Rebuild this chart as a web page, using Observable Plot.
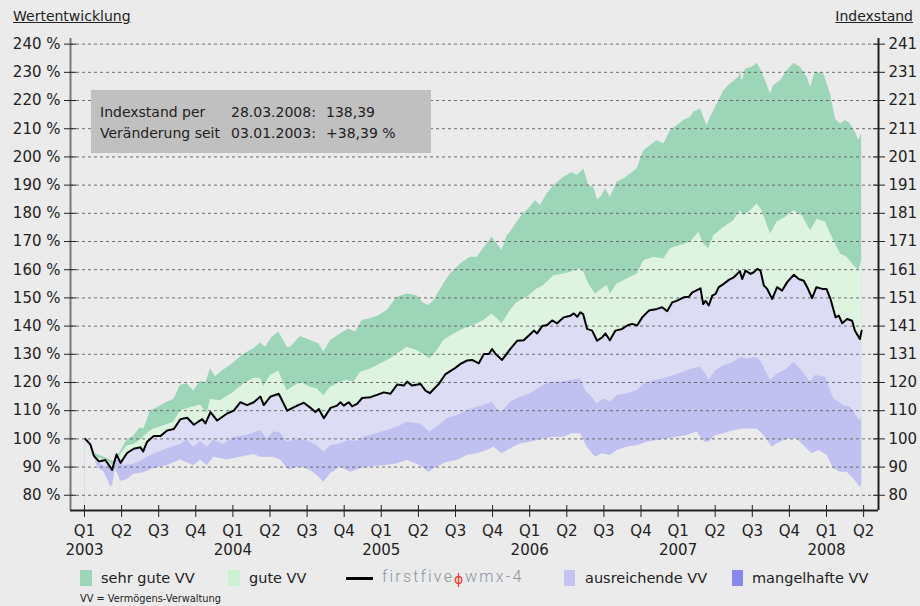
<!DOCTYPE html>
<html><head><meta charset="utf-8">
<script src="https://cdn.jsdelivr.net/npm/d3@7"></script>
<script src="https://cdn.jsdelivr.net/npm/@observablehq/plot@0.6"></script>
<style>
body{margin:0;background:#ebebeb;font-family:"DejaVu Sans",sans-serif;color:#222;}
#root{position:relative;width:920px;height:606px;overflow:hidden;background:#ebebeb;}
.abs{position:absolute;line-height:1;white-space:nowrap;}
#chart{position:absolute;left:0;top:32px;}
</style></head><body><div id="root"><div id="chart"></div></div>
<script>
// ---- data (time in decimal years, values in % of start) ----
const indexLine = [[2003.005,100],[2003.040,98],[2003.063,94],[2003.097,92],[2003.141,92.5],[2003.186,89],[2003.216,94.5],[2003.243,91.5],[2003.287,95],[2003.332,96.5],[2003.377,97],[2003.395,95.5],[2003.422,99],[2003.467,101],[2003.512,101],[2003.557,103],[2003.602,103.5],[2003.647,107],[2003.692,107.5],[2003.737,105],[2003.793,107],[2003.815,105.5],[2003.849,109.5],[2003.894,106.5],[2003.961,109],[2004.006,110],[2004.051,113],[2004.096,112],[2004.141,113],[2004.186,115],[2004.208,112],[2004.253,115],[2004.309,116],[2004.366,110],[2004.433,111.8],[2004.478,112.8],[2004.523,111],[2004.556,109.5],[2004.579,110.6],[2004.613,107.3],[2004.658,111],[2004.702,111.8],[2004.725,113],[2004.747,111.8],[2004.781,113],[2004.803,111.5],[2004.837,112.4],[2004.871,114.5],[2004.927,114.8],[2004.972,115.6],[2005.017,116.5],[2005.062,116],[2005.107,119.3],[2005.152,118.9],[2005.174,120.3],[2005.208,118.9],[2005.264,119.5],[2005.298,117.1],[2005.327,116.2],[2005.354,117.7],[2005.388,119.5],[2005.433,123],[2005.489,124.8],[2005.534,126.6],[2005.578,127.8],[2005.612,128],[2005.657,126.8],[2005.691,130.1],[2005.725,130.1],[2005.747,131.9],[2005.770,130.1],[2005.814,128],[2005.870,131.9],[2005.915,134.8],[2005.960,135],[2006.005,137.2],[2006.028,138.4],[2006.050,137.4],[2006.084,140],[2006.118,140.4],[2006.151,142],[2006.185,141],[2006.230,143.1],[2006.275,143.7],[2006.297,144.5],[2006.320,143.3],[2006.342,144.9],[2006.360,144.3],[2006.387,139],[2006.421,138.4],[2006.454,134.8],[2006.488,136],[2006.511,137.4],[2006.540,135],[2006.578,138.4],[2006.623,139],[2006.657,140.2],[2006.690,140.8],[2006.724,140.2],[2006.758,143.1],[2006.803,145.5],[2006.859,146.1],[2006.892,146.7],[2006.926,145.3],[2006.960,148.4],[2006.993,149],[2007.038,150.2],[2007.072,150.4],[2007.094,151.9],[2007.151,153.4],[2007.169,147.8],[2007.185,149],[2007.207,147.3],[2007.230,150.8],[2007.252,151.4],[2007.274,153.8],[2007.308,155],[2007.342,156.4],[2007.375,157.3],[2007.398,158.5],[2007.416,159.5],[2007.432,156.7],[2007.454,159.7],[2007.488,158.5],[2007.510,159.1],[2007.533,160.3],[2007.555,159.7],[2007.578,154.4],[2007.600,153.2],[2007.634,149.6],[2007.667,153.8],[2007.701,152.6],[2007.735,155.6],[2007.780,158.2],[2007.813,156.7],[2007.847,156.1],[2007.870,153.8],[2007.903,149.9],[2007.932,153.8],[2007.971,153.2],[2008.000,153.2],[2008.027,149.6],[2008.061,143.1],[2008.083,143.7],[2008.106,141],[2008.139,142.5],[2008.173,141.9],[2008.191,138.4],[2008.225,135.4],[2008.237,138.39]];

const bandTop = [[2003.005,100],[2003.063,95],[2003.153,93],[2003.198,92],[2003.243,95.5],[2003.287,99.5],[2003.332,101],[2003.377,104],[2003.400,103.5],[2003.445,110],[2003.490,111],[2003.557,113],[2003.602,114],[2003.647,119],[2003.692,119.5],[2003.737,117],[2003.782,120.5],[2003.815,119.5],[2003.849,125],[2003.883,122],[2003.916,123.5],[2004.006,127],[2004.074,130],[2004.141,132],[2004.186,134],[2004.220,132.5],[2004.264,136],[2004.309,138],[2004.366,132.5],[2004.388,132.5],[2004.455,136.3],[2004.523,134.9],[2004.579,133.7],[2004.613,130.7],[2004.658,134.9],[2004.725,137.2],[2004.781,139],[2004.826,137.8],[2004.871,142],[2004.927,142.6],[2004.983,143.7],[2005.039,145.5],[2005.107,150.2],[2005.174,151.4],[2005.241,150.8],[2005.286,148.1],[2005.320,147.3],[2005.354,149],[2005.421,155],[2005.466,158.5],[2005.534,162],[2005.601,164.4],[2005.646,164.4],[2005.680,166.8],[2005.747,171.5],[2005.781,169.1],[2005.814,166.8],[2005.848,172.1],[2005.870,173.3],[2005.938,178.6],[2006.005,182.2],[2006.039,184.5],[2006.073,182.8],[2006.118,186.9],[2006.162,189.8],[2006.230,192.8],[2006.286,194.5],[2006.320,193.4],[2006.365,195.7],[2006.398,189.8],[2006.432,189.2],[2006.459,184.7],[2006.488,186.3],[2006.511,188.6],[2006.544,185.7],[2006.589,191],[2006.634,192.2],[2006.679,193.9],[2006.724,195.7],[2006.769,202.2],[2006.814,204],[2006.859,205.8],[2006.904,204.6],[2006.949,209.3],[2006.993,211.1],[2007.038,212.9],[2007.083,214.1],[2007.106,215.8],[2007.151,217],[2007.185,212.3],[2007.196,211.1],[2007.218,214],[2007.252,217.6],[2007.308,223.5],[2007.353,225.9],[2007.409,228.3],[2007.420,230.6],[2007.432,226.5],[2007.454,231.2],[2007.499,231.8],[2007.533,233.2],[2007.555,231.2],[2007.589,227],[2007.623,222.3],[2007.645,225.3],[2007.690,227],[2007.735,230.6],[2007.780,233.2],[2007.825,231.8],[2007.870,228.3],[2007.892,224.7],[2007.926,230],[2007.982,229.4],[2008.027,222.3],[2008.061,213.4],[2008.094,211.7],[2008.128,212.9],[2008.162,211.7],[2008.195,208.7],[2008.218,205.8],[2008.237,208.2]];

const bandGood = [[2003.005,100],[2003.063,93.5],[2003.153,92.5],[2003.198,90],[2003.243,94.5],[2003.287,97.5],[2003.332,98],[2003.377,99.5],[2003.422,102],[2003.467,103.5],[2003.557,105],[2003.602,106],[2003.647,110],[2003.714,111],[2003.782,112],[2003.827,109],[2003.849,114],[2003.916,113.5],[2004.006,116.5],[2004.074,119.5],[2004.141,121.5],[2004.186,121.5],[2004.208,118.5],[2004.253,122.5],[2004.309,124],[2004.366,117],[2004.455,120.1],[2004.523,118.3],[2004.568,117.7],[2004.613,115.4],[2004.658,118.3],[2004.725,120.1],[2004.770,120.7],[2004.815,120.1],[2004.860,123.6],[2004.927,124.8],[2004.994,126.6],[2005.062,128.4],[2005.107,130.1],[2005.174,132.5],[2005.241,131.3],[2005.298,129.6],[2005.327,128.4],[2005.376,131.3],[2005.421,134.9],[2005.489,137.2],[2005.556,139],[2005.624,140.2],[2005.691,142],[2005.747,144.3],[2005.781,142.6],[2005.814,140.8],[2005.870,145.5],[2005.915,148.4],[2005.983,150.2],[2006.050,153.2],[2006.095,154.4],[2006.162,157.9],[2006.230,158.5],[2006.275,159.1],[2006.342,160.3],[2006.365,159.1],[2006.398,154.9],[2006.443,151.4],[2006.488,153.2],[2006.522,154.4],[2006.544,151.4],[2006.589,154.9],[2006.657,156.7],[2006.724,158.5],[2006.769,163.2],[2006.836,164.4],[2006.904,163.8],[2006.949,167.4],[2007.016,168.6],[2007.083,169.7],[2007.140,173.3],[2007.173,169.1],[2007.207,167.4],[2007.241,172.1],[2007.308,175],[2007.375,177.4],[2007.420,180.9],[2007.443,179.1],[2007.488,180.9],[2007.533,183.3],[2007.566,180.9],[2007.623,172.7],[2007.667,176.8],[2007.724,178.6],[2007.780,180.9],[2007.836,179.1],[2007.892,173.8],[2007.937,177.9],[2007.993,176.8],[2008.049,170.3],[2008.094,165.6],[2008.139,164.4],[2008.184,161.5],[2008.218,159.7],[2008.237,163.2]];

const bandFair = [[2003.005,100],[2003.063,92.5],[2003.108,91],[2003.198,89],[2003.220,92.5],[2003.265,90.5],[2003.332,91],[2003.377,92],[2003.422,93.5],[2003.490,95],[2003.557,96.5],[2003.647,98],[2003.692,99.5],[2003.737,97],[2003.782,99],[2003.827,97],[2003.871,99.5],[2003.939,98],[2004.006,100.5],[2004.074,101],[2004.141,102],[2004.186,103],[2004.231,100],[2004.276,102.5],[2004.321,102],[2004.366,99],[2004.455,100],[2004.523,98.8],[2004.568,97.6],[2004.613,95.3],[2004.658,97.6],[2004.725,98.2],[2004.781,99.4],[2004.837,99.2],[2004.882,100.6],[2004.972,101.8],[2005.039,103],[2005.107,104.1],[2005.174,105.9],[2005.264,105.3],[2005.327,102.4],[2005.376,104.1],[2005.444,107.1],[2005.511,108.3],[2005.578,110],[2005.646,111.2],[2005.691,111.8],[2005.747,113],[2005.781,110.6],[2005.814,109.5],[2005.870,113],[2005.938,114.8],[2006.005,116],[2006.073,118.3],[2006.140,120.1],[2006.207,120.1],[2006.275,120.7],[2006.342,121.3],[2006.376,117.1],[2006.421,114.8],[2006.454,112.4],[2006.499,114.2],[2006.544,113],[2006.589,115.4],[2006.657,116],[2006.724,117.1],[2006.769,119.5],[2006.836,120.7],[2006.904,121.3],[2006.971,122.5],[2007.038,123.6],[2007.094,124.8],[2007.151,125.4],[2007.185,123.1],[2007.207,120.7],[2007.252,124.2],[2007.308,125.9],[2007.375,127.2],[2007.420,128.9],[2007.466,128.3],[2007.521,128.9],[2007.555,127.8],[2007.623,120.7],[2007.667,123],[2007.735,124.8],[2007.780,127.2],[2007.825,124.8],[2007.892,120.1],[2007.926,122.5],[2007.993,121.9],[2008.049,114.2],[2008.117,111.8],[2008.162,111.2],[2008.207,107.7],[2008.229,106.5],[2008.237,107.7]];

const bandBottom = [[2003.005,100],[2003.061,93.5],[2003.094,89.5],[2003.128,88.5],[2003.162,85],[2003.175,83],[2003.189,83.5],[2003.209,89.5],[2003.243,85],[2003.287,85.5],[2003.332,87.5],[2003.400,88],[2003.467,89.5],[2003.557,90.5],[2003.647,92.5],[2003.737,90.5],[2003.782,92.5],[2003.827,90.5],[2003.871,93.5],[2003.961,92.5],[2004.051,93.5],[2004.141,94.5],[2004.186,93.5],[2004.276,93.5],[2004.321,92.5],[2004.377,89],[2004.455,90],[2004.523,88.8],[2004.568,87],[2004.613,84.6],[2004.658,87.6],[2004.725,90],[2004.792,88.2],[2004.860,89.4],[2004.927,90],[2005.017,90.5],[2005.107,91.1],[2005.174,92.3],[2005.264,90.5],[2005.320,88.2],[2005.376,90],[2005.444,91.7],[2005.511,92.3],[2005.578,94.1],[2005.646,94.7],[2005.714,95.9],[2005.758,97],[2005.814,94.7],[2005.870,96.5],[2005.938,98.2],[2006.005,98.8],[2006.095,100],[2006.162,100.6],[2006.230,100.6],[2006.286,101.8],[2006.342,101.8],[2006.387,97.1],[2006.443,93.5],[2006.488,94.7],[2006.544,94.1],[2006.589,95.9],[2006.657,97.1],[2006.724,97.6],[2006.791,98.8],[2006.859,99.4],[2006.926,100],[2006.993,100.6],[2007.061,101.2],[2007.128,102.4],[2007.169,99.4],[2007.185,98.8],[2007.207,98.8],[2007.252,101.2],[2007.308,101.8],[2007.375,102.9],[2007.443,103.5],[2007.533,103.5],[2007.578,101.2],[2007.634,97.1],[2007.667,98.2],[2007.735,100],[2007.802,100],[2007.847,97.6],[2007.903,94.7],[2007.948,95.9],[2008.004,94.1],[2008.049,89.4],[2008.094,88.2],[2008.139,88.2],[2008.184,85.8],[2008.229,82.8],[2008.237,84]];

// ---- axes / labels ----
const yTicks = [80,90,100,110,120,130,140,150,160,170,180,190,200,210,220,230,240];
const rightLabels = ["80","90","100","110","120","131","141","151","161","171","181","191","201","211","221","231","241"];
const quarterNames = ["Q1","Q2","Q3","Q4"];
const years = [2003,2004,2005,2006,2007,2008];
const quarterTicks = d3.range(0, 22).map(i => 2003 + i * 0.25);

const X_DOMAIN = [2002.9057, 2008.3504];
const Y_DOMAIN = [74.6, 242];
const BG = "#ebebeb";
const rightMap = new Map(yTicks.map((v, i) => [v, rightLabels[i]]));

const area = (data, fill) => Plot.areaY(data, {x: d => d[0], y1: () => Y_DOMAIN[0], y2: d => d[1], fill});

const chart = Plot.plot({
  width: 920, height: 528,
  marginTop: 6, marginBottom: 50, marginLeft: 70, marginRight: 42,
  x: {type: "linear", domain: X_DOMAIN},
  y: {domain: Y_DOMAIN},
  style: {background: "transparent", fontFamily: "DejaVu Sans", fontSize: "15px", color: "#222", overflow: "visible"},
  marks: [
    area(bandTop, "#9dd5b9"),
    area(bandGood, "#dff3e1"),
    area(indexLine, "#dcdcf4"),
    area(bandFair, "#c1c1f1"),
    area(bandBottom, BG),
    Plot.ruleY(yTicks, {stroke: "#6e6e6e", strokeWidth: 1, strokeDasharray: "3,3"}),
    Plot.line(indexLine, {x: d => d[0], y: d => d[1], stroke: "#000", strokeWidth: 2}),
    Plot.ruleX([X_DOMAIN[0]], {stroke: "#7a7a7a", strokeWidth: 2}),
    Plot.ruleX([X_DOMAIN[1]], {stroke: "#222", strokeWidth: 2}),
    Plot.ruleY([Y_DOMAIN[0]], {stroke: "#222", strokeWidth: 2}),
    Plot.axisY({anchor: "left", ticks: yTicks, tickFormat: d => `${d} %`, tickSize: 12, dx: 6, tickPadding: 4, label: null}),
    Plot.axisY({anchor: "right", ticks: yTicks, tickFormat: d => rightMap.get(d), tickSize: 12, dx: -6, tickPadding: 4, label: null}),
    Plot.axisX({anchor: "bottom", ticks: quarterTicks, tickFormat: d => quarterNames[Math.round((d - 2003) * 4) % 4], tickSize: 12, dy: -5, tickPadding: 8, label: null}),
    Plot.axisX({anchor: "bottom", ticks: years, tickFormat: d => String(d), tickSize: 0, tickPadding: 34, label: null})
  ]
});
document.getElementById("chart").appendChild(chart);

// ---- HTML text: titles, info box, legend ----
const root = document.getElementById("root");
function txt(s, left, baseline, size, extra = {}) {
  const el = document.createElement("div");
  el.className = "abs";
  el.textContent = s;
  el.style.left = left + "px";
  el.style.top = (baseline - 0.846 * size) + "px";
  el.style.fontSize = size + "px";
  Object.assign(el.style, extra);
  root.appendChild(el);
  return el;
}
function box(left, top, w, h, color) {
  const el = document.createElement("div");
  el.className = "abs";
  Object.assign(el.style, {left: left + "px", top: top + "px", width: w + "px", height: h + "px", background: color});
  root.appendChild(el);
  return el;
}
txt("Wertentwicklung", 13, 21, 14, {textDecoration: "underline"});
const ix = txt("Indexstand", 0, 21, 14, {textDecoration: "underline"});
ix.style.left = ""; ix.style.right = "7px";

box(91, 90, 340, 63, "#c0c0c0");
const infoLines = [
  ["Indexstand per", "28.03.2008:", "138,39"],
  ["Veränderung seit", "03.01.2003:", "+38,39 %"]
];
infoLines.forEach((row, r) => {
  const b = 117 + r * 21;
  txt(row[0], 100, b, 14);
  txt(row[1], 231, b, 14);
  txt(row[2], 326, b, 14);
});

// legend
const brand = {color: "#8a96a2", fontFamily: "Roboto, 'DejaVu Sans'", fontWeight: "300", letterSpacing: "2.2px"};
box(80, 570, 12, 16, "#9dd5b9");
txt("sehr gute VV", 101, 583, 14.5);
box(228, 570, 12, 16, "#ccf2d3");
txt("gute VV", 249, 583, 14.5);
box(346, 577, 27, 3, "#000");
txt("firstfive", 382, 583, 16, brand);
txt("ϕ", 454, 584, 14, {color: "#e8392f"});
txt("wmx-4", 465, 583, 16, brand);
box(564, 570, 11, 16, "#c4c4f4");
txt("ausreichende VV", 585, 583, 14.5);
box(732, 570, 11, 16, "#8787ef");
txt("mangelhafte VV", 752, 583, 14.5);
txt("VV = Vermögens-Verwaltung", 80, 602, 9.8);
</script></body></html>
